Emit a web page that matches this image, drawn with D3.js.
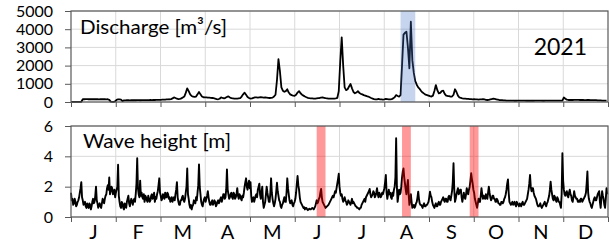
<!doctype html>
<html lang="en">
<head>
<meta charset="UTF-8" />
<title>Discharge and wave height 2021</title>
<style>
  body { margin: 0; background: #fff; }
  svg text { font-family: Lato, "Open Sans", sans-serif; fill: #000; }
  .grid line { stroke: #d9d9d9; stroke-width: 1; }
  .frame { fill: none; stroke: #595959; stroke-width: 1.2; }
  .axis path { display: none; }
  .axis line { stroke: #595959; }
</style>
</head>
<body>
<svg id="chart" width="610" height="242"></svg>
<script src="https://cdn.jsdelivr.net/npm/d3@7"></script>
<script>
const months = ["J", "F", "M", "A", "M", "J", "J", "A", "S", "O", "N", "D"];
const dischargeTicks = [0, 1000, 2000, 3000, 4000, 5000];
const waveTicks = [0, 2, 4, 6];
const year = "2021";

// daily discharge [m3/s], one row per month
const discharge = [
  10,10,10,10,10,10,10,10,150,150,155,155,150,150,155,150,150,150,150,145,150,150,150,150,145,150,120,20,10,10,30,
  120,150,140,130,50,90,90,95,95,90,95,100,95,95,100,100,95,100,100,105,100,100,105,110,105,110,110,115,
  115,120,120,125,130,130,140,145,150,160,200,250,220,180,160,170,200,250,300,500,750,600,420,330,290,280,300,420,550,420,300,
  260,250,250,240,240,230,220,210,180,160,150,180,250,220,200,230,280,310,250,210,200,190,180,190,200,210,300,420,510,400,
  280,220,190,200,230,250,250,240,250,260,250,240,250,240,230,220,230,240,300,400,1200,2350,1700,800,620,560,600,700,520,420,380,
  350,340,400,520,600,480,400,350,300,260,230,210,200,200,190,190,200,210,220,240,250,230,210,200,190,190,180,190,190,200,
  220,600,2200,3550,2000,800,650,700,850,990,750,550,480,520,600,500,450,420,380,350,320,300,260,220,190,160,140,150,170,150,140,
  130,140,170,160,150,140,160,200,260,380,330,300,380,2000,3700,3800,3860,3000,1850,4410,2300,1600,1150,950,800,720,600,520,460,400,380,
  350,320,300,350,600,930,650,480,500,600,620,450,350,330,320,300,300,400,700,550,350,250,220,200,190,180,170,170,160,160,
  150,160,150,140,130,140,150,160,140,120,110,120,140,160,180,170,150,130,110,100,100,90,90,80,80,80,75,75,70,70,70,
  80,80,75,75,75,70,70,70,70,70,70,70,75,75,75,75,70,70,70,75,75,75,75,80,80,75,75,75,75,75,
  80,250,180,130,110,110,110,110,120,120,120,115,110,110,110,105,105,110,110,100,100,100,100,100,90,90,90,80,80,80,70
];

// wave height [m], two readings a day (00h, 12h), one row per month
const waveHeight = [
  1.6,1.1,1.2,0.8,0.9,1.2,1.0,0.7,0.8,1.0,1.1,1.3,1.6,1.9,2.3,1.3,1.1,0.8,0.9,1.0,0.7,0.6,0.9,0.7,0.6,0.9,0.8,0.5,0.7,1.0,1.2,0.9,1.0,1.4,2.0,1.1,0.9,0.6,0.8,0.9,0.7,0.6,0.9,1.2,1.1,0.9,1.2,1.4,1.5,1.9,2.1,1.8,2.6,1.5,1.7,2.0,1.9,1.5,1.6,1.8,1.3,1.6,
  1.8,2.0,3.45,1.4,1.0,0.7,0.6,1.0,0.9,0.6,0.5,0.9,0.8,0.6,1.0,1.2,1.4,0.9,0.7,1.0,1.2,1.0,0.8,1.1,1.2,1.0,1.5,2.2,3.87,1.9,1.5,1.3,2.4,1.4,1.6,1.3,1.2,1.5,1.0,1.4,1.3,1.1,1.0,1.4,1.2,1.0,1.1,1.4,1.5,1.2,1.3,1.6,1.0,1.3,1.2,1.5,
  1.7,2.1,2.55,1.6,1.4,1.1,1.2,1.5,1.4,1.2,1.6,1.3,1.3,1.6,1.5,1.2,1.3,1.0,1.1,1.3,1.0,1.2,1.3,1.1,1.5,1.8,2.3,1.3,1.0,0.8,0.8,1.1,1.1,1.3,1.4,1.1,1.0,1.2,1.6,2.0,3.2,1.5,1.2,0.8,0.6,0.8,0.5,0.7,0.8,1.1,1.0,0.9,1.3,1.1,1.6,2.1,3.47,2.0,1.5,1.0,0.8,0.7,
  1.0,1.2,1.3,1.0,1.2,1.4,1.7,1.3,1.0,0.8,0.8,1.0,1.1,0.8,0.9,1.1,1.0,0.7,0.8,1.0,1.1,0.9,1.0,1.2,1.3,1.0,1.2,1.5,1.5,1.2,1.3,1.8,3.14,1.8,1.5,1.2,1.3,1.5,1.6,1.3,1.2,1.6,1.5,1.2,1.3,1.5,1.9,1.4,1.2,1.5,1.4,1.2,1.1,1.4,1.3,1.6,2.0,2.3,2.55,2.0,
  1.8,2.2,2.4,1.9,2.3,1.4,1.0,1.2,1.3,1.0,1.2,1.4,1.5,1.3,1.8,2.0,2.2,1.5,1.2,1.6,2.0,1.0,0.6,0.8,1.0,1.5,2.0,1.6,1.3,1.0,1.0,1.6,2.55,1.6,1.2,0.9,0.7,0.9,1.2,1.7,2.26,1.7,1.4,1.1,1.0,0.7,0.6,0.8,0.9,1.1,1.3,1.0,1.0,1.6,2.55,1.9,1.5,1.1,0.9,1.0,1.1,0.8,
  0.7,0.9,1.0,1.2,1.6,2.2,2.7,2.1,1.8,1.3,1.0,0.9,0.8,0.7,0.6,0.65,0.5,0.6,0.6,0.5,0.45,0.5,0.55,0.5,0.5,0.55,0.6,0.55,0.5,0.6,0.7,0.9,1.1,0.9,1.0,1.2,1.3,1.6,1.85,1.3,1.0,0.9,0.8,0.7,0.6,0.65,0.7,0.75,0.8,0.9,1.0,1.1,1.2,1.3,1.4,1.3,1.5,1.7,1.6,1.9,
  2.2,2.5,2.85,2.0,1.6,1.4,1.5,1.2,1.0,1.1,1.3,1.1,1.0,0.8,0.9,1.1,1.0,0.9,0.8,1.0,1.2,0.9,1.0,0.9,0.8,0.7,0.7,0.6,0.6,0.55,0.5,0.6,0.6,0.8,0.9,1.0,1.1,1.2,1.0,1.3,1.4,1.5,1.6,1.7,1.85,1.5,1.3,1.4,1.5,1.7,1.6,1.3,1.4,1.6,1.9,1.5,1.3,1.6,1.5,1.3,1.4,1.6,
  1.5,1.7,1.9,2.3,2.77,1.6,1.2,1.5,1.8,1.5,1.6,1.3,1.2,1.6,1.4,1.8,2.0,2.6,5.19,2.0,1.0,1.4,1.8,1.5,1.6,2.0,2.6,3.0,3.2,2.6,2.2,1.8,1.5,2.0,2.44,1.5,0.8,1.1,1.5,1.0,0.6,0.7,0.8,0.6,0.7,0.9,1.0,1.3,1.67,1.2,0.9,0.8,0.8,0.7,0.6,0.8,0.9,0.7,0.7,0.8,0.8,0.9,
  1.0,1.3,1.67,1.4,1.3,1.0,0.8,0.7,0.6,0.8,0.9,0.7,0.7,0.9,1.0,0.8,0.8,1.0,1.1,1.2,1.3,1.1,1.0,1.2,1.2,1.0,1.0,1.3,1.4,1.2,1.1,1.4,1.7,2.3,3.54,1.8,1.0,1.2,1.5,1.7,1.9,1.5,1.6,1.8,1.8,1.3,1.0,1.3,1.6,1.3,1.2,1.5,1.9,1.6,1.5,1.8,2.0,2.4,2.88,2.5,
  2.2,1.8,1.6,1.2,1.0,0.8,0.6,0.9,1.2,1.0,1.0,1.4,1.9,1.5,1.2,1.4,1.3,1.2,1.5,1.3,1.2,1.6,2.0,1.6,1.3,1.1,1.2,1.4,1.4,1.2,1.2,1.0,1.0,1.2,1.1,0.9,0.9,0.8,0.8,1.0,1.0,0.9,1.0,1.2,1.3,1.5,1.8,2.2,2.48,1.6,1.0,0.9,0.8,0.9,1.0,0.8,0.9,1.0,0.8,0.7,1.0,0.9,
  0.8,0.7,0.9,0.8,0.7,0.9,1.0,0.8,0.8,0.9,1.0,1.1,1.2,1.5,1.8,2.2,2.77,2.0,1.7,1.9,1.9,1.6,1.4,1.3,1.2,1.0,0.8,0.7,0.7,0.8,0.9,0.7,0.6,0.7,0.8,0.9,1.0,0.8,0.7,0.9,1.0,1.2,1.4,1.8,2.33,1.8,1.5,1.2,1.1,1.4,1.3,1.1,1.0,1.3,1.2,1.0,1.0,0.8,0.6,1.5,
  4.2,2.4,1.8,1.5,1.4,1.6,1.7,1.4,1.3,1.6,1.8,1.5,1.4,1.1,1.0,1.3,1.7,1.4,1.3,1.2,1.2,1.0,1.0,1.1,1.0,1.2,1.2,1.0,1.1,1.2,1.3,1.4,1.6,2.2,3.0,1.6,1.2,1.0,0.9,0.7,0.6,0.8,1.0,1.2,1.3,1.1,1.1,1.3,1.5,1.6,1.7,1.0,0.6,1.2,1.7,1.4,1.2,0.8,0.6,1.2,1.9,1.5
];

// highlighted periods, day of year [start, end]
const dischargeBands = [[224, 234]];
const waveBands = [[167, 173], [225, 231], [271, 277]];

const svg = d3.select("#chart");
const daysInYear = 365;
const x = d3.scaleLinear().domain([0, daysInYear]).range([71, 608]);
const monthEdges = d3.range(13).map(i => i * daysInYear / 12);

const drawPanel = (opts) => {
  const y = d3.scaleLinear().domain(opts.domain).range([opts.bottom, opts.top]);
  const g = svg.append("g");

  // gridlines
  const grid = g.append("g").attr("class", "grid");
  grid.selectAll(".h").data(opts.ticks).enter().append("line")
    .attr("x1", x(0)).attr("x2", x(daysInYear))
    .attr("y1", d => y(d)).attr("y2", d => y(d));
  grid.selectAll(".v").data(monthEdges.slice(1, 12)).enter().append("line")
    .attr("x1", d => x(d)).attr("x2", d => x(d))
    .attr("y1", opts.top).attr("y2", opts.bottom);

  const line = d3.line().x((d, i) => x(i * opts.step)).y(d => y(d));
  g.append("path").datum(opts.values)
    .attr("d", line)
    .attr("fill", "none")
    .attr("stroke", "#000")
    .attr("stroke-width", opts.lineWidth)
    .attr("stroke-linejoin", "round");

  // highlighted periods go over the line, semi transparent
  g.selectAll(".band").data(opts.bands).enter().append("rect")
    .attr("x", d => x(d[0]))
    .attr("width", d => x(d[1]) - x(d[0]))
    .attr("y", opts.top)
    .attr("height", opts.bottom - opts.top)
    .attr("fill", opts.bandColor)
    .attr("fill-opacity", opts.bandOpacity);

  g.append("rect").attr("class", "frame")
    .attr("x", x(0)).attr("y", opts.top)
    .attr("width", x(daysInYear) - x(0)).attr("height", opts.bottom - opts.top);

  g.append("g").attr("class", "axis")
    .attr("transform", `translate(${x(0)},0)`)
    .call(d3.axisLeft(y).tickValues(opts.ticks).tickSize(6).tickPadding(12).tickFormat(d => d))
    .selectAll("text")
    .attr("font-family", "Lato, sans-serif")
    .attr("font-size", 16)
    .attr("fill", "#000");

  g.append("g").attr("class", "axis")
    .attr("transform", `translate(0,${opts.bottom})`)
    .call(d3.axisBottom(x).tickValues(monthEdges).tickSize(5).tickFormat(""));

  g.append("text")
    .attr("x", opts.titleX).attr("y", opts.titleY)
    .attr("font-size", 20)
    .attr("textLength", opts.titleWidth)
    .attr("lengthAdjust", "spacingAndGlyphs")
    .text(opts.title);

  return g;
};

const topPanel = drawPanel({
  domain: [0, 5000], ticks: dischargeTicks, top: 11, bottom: 102,
  values: discharge, step: 1, lineWidth: 1.8,
  bands: dischargeBands, bandColor: "#4472c4", bandOpacity: 0.3,
  title: "Discharge [m³/s]", titleX: 80, titleY: 34, titleWidth: 147
});

topPanel.append("text")
  .attr("x", 587).attr("y", 55)
  .attr("text-anchor", "end")
  .attr("font-size", 23)
  .text(year);

drawPanel({
  domain: [0, 6], ticks: waveTicks, top: 126, bottom: 217,
  values: waveHeight, step: 0.5, lineWidth: 1.9,
  bands: waveBands, bandColor: "#ff0000", bandOpacity: 0.4,
  title: "Wave height [m]", titleX: 83, titleY: 148, titleWidth: 148
});

svg.append("g").selectAll("text").data(months).enter().append("text")
  .attr("x", (d, i) => x((i + 0.5) * daysInYear / 12))
  .attr("y", 239)
  .attr("text-anchor", "middle")
  .attr("font-size", 20)
  .text(d => d);
</script>
</body>
</html>
